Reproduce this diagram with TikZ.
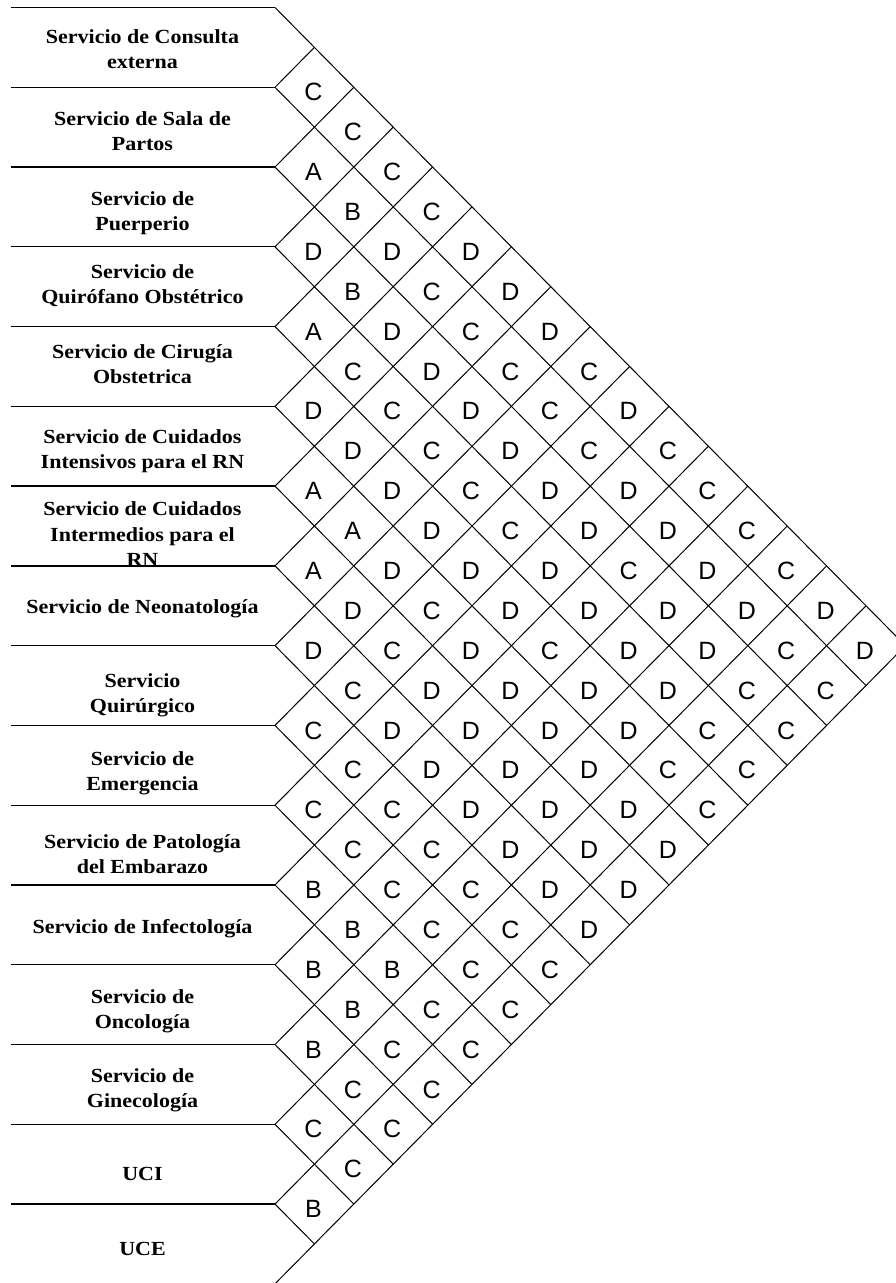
\documentclass[tikz,border=0pt]{standalone}
\usepackage{fontspec}
\newfontfamily\labfont{Liberation Serif}[FakeStretch=1.1]
\newfontfamily\letfont{Liberation Sans}
\begin{document}
\begin{tikzpicture}[x=1pt,y=-1pt,
  hline/.style={line width=1.3pt,black},
  gline/.style={line width=1pt,black},
  lab/.style={font=\labfont\bfseries\fontsize{20}{25.5}\selectfont,align=center,anchor=base,inner sep=0pt},
  rel/.style={font=\letfont\fontsize{25}{25}\selectfont,inner sep=0pt}]
\useasboundingbox (0,0) rectangle (896,1283);
\fill[white] (0,0) rectangle (896,1283);
\clip (0,0) rectangle (896,1283);
% boundary points
\foreach \i in {0,...,16}{
  \coordinate (b\i) at (275,{7.5+\i*79.77});
  \coordinate (l\i) at (11,{7.5+\i*79.77});
  \coordinate (t\i) at ({275+\i*39.4},{7.5+\i*39.885});
  \coordinate (u\i) at ({275+(16-\i)*39.4},{7.5+(16+\i)*39.885});
}
\foreach \i in {0,...,15}{
  \draw[hline] (l\i) -- (b\i);
  \draw[gline] (b\i) -- (u\i);
}
\foreach \i in {1,...,16}{
  \draw[gline] (b\i) -- (t\i);
}
% labels (anchor = baseline of last line)
\node[lab] (lab1) at (142.5,68.5) {Servicio de Consulta\\externa};
\node[lab] (lab2) at (142.5,150.5) {Servicio de Sala de\\Partos};
\node[lab] (lab3) at (142.5,230.5) {Servicio de\\Puerperio};
\node[lab] (lab4) at (142.5,303.5) {Servicio de\\Quirófano Obstétrico};
\node[lab] (lab5) at (142.5,383.5) {Servicio de Cirugía\\Obstetrica};
\node[lab] (lab6) at (142.5,468.5) {Servicio de Cuidados\\Intensivos para el RN};
\node[lab] (lab7) at (142.5,566.5) {Servicio de Cuidados\\Intermedios para el\\RN};
\node[lab] (lab8) at (142.5,613) {Servicio de Neonatología};
\node[lab] (lab9) at (142.5,712.5) {Servicio\\Quirúrgico};
\node[lab] (lab10) at (142.5,790.5) {Servicio de\\Emergencia};
\node[lab] (lab11) at (142.5,873.5) {Servicio de Patología\\del Embarazo};
\node[lab] (lab12) at (142.5,933) {Servicio de Infectología};
\node[lab] (lab13) at (142.5,1028.5) {Servicio de\\Oncología};
\node[lab] (lab14) at (142.5,1107.5) {Servicio de\\Ginecología};
\node[lab] (lab15) at (142.5,1180) {UCI};
\node[lab] (lab16) at (142.5,1255) {UCE};
% relationship letters
\foreach \L/\s in {2/{C},3/{C},4/{A,C},5/{B,C},6/{D,D,D},7/{B,C,D},8/{A,D,C,D},9/{C,D,C,C},
  10/{D,C,D,C,D},11/{D,C,D,C,C},12/{A,D,C,D,D,C},13/{A,D,C,D,D,C},14/{A,D,D,D,C,D,C},
  15/{D,C,D,D,D,D,D},16/{D,C,D,C,D,D,C,D},17/{C,D,D,D,D,C,C},18/{C,D,D,D,D,C,C},
  19/{C,D,D,D,C,C},20/{C,C,D,D,D,C},21/{C,C,D,D,D},22/{B,C,C,D,D},23/{B,C,C,D},
  24/{B,B,C,C},25/{B,C,C},26/{B,C,C},27/{C,C},28/{C,C},29/{C},30/{B}}{
  \foreach \ch [count=\n from 0] in \s {
    \pgfmathsetmacro\kk{1+mod(\L,2)+2*\n}
    \node[rel] (r\L-\n) at ({274+\kk*39.4},{7.5+\L*39.885+5}) {\ch};
  }
}
\end{tikzpicture}
\end{document}
